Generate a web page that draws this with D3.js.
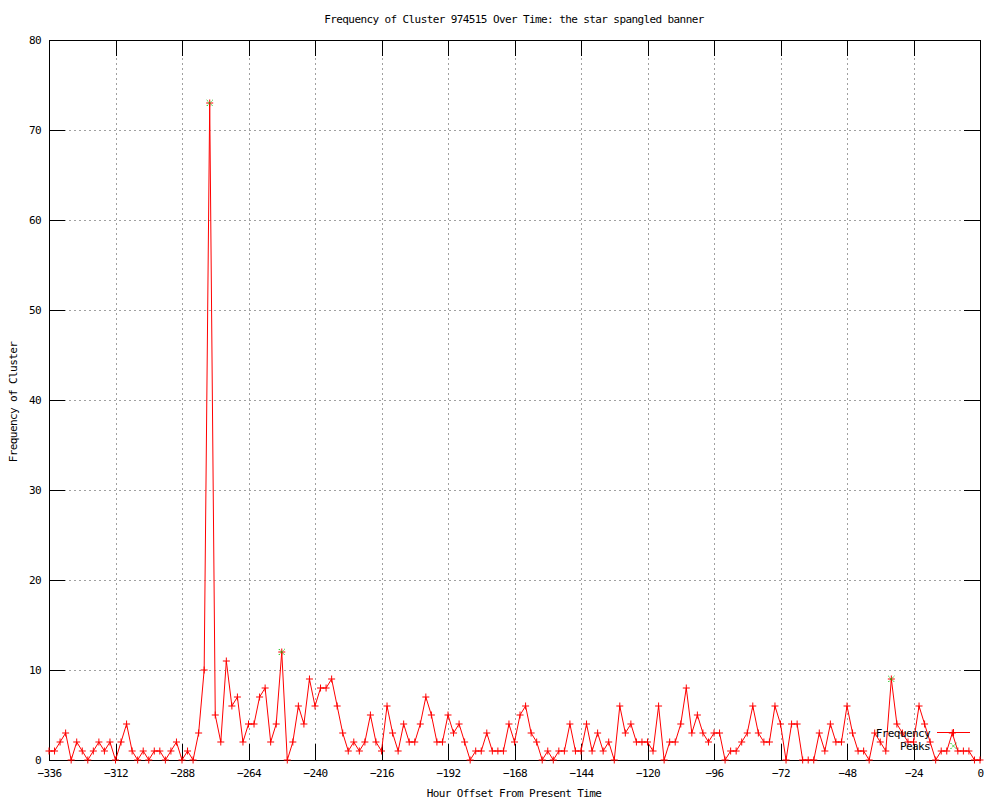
<!DOCTYPE html>
<html>
<head>
<meta charset="utf-8">
<script src="https://cdn.jsdelivr.net/npm/d3@7"></script>
<style>
  body { margin: 0; background: #fff; }
  svg text { font-family: "DejaVu Sans Mono", "Liberation Mono", monospace; font-size: 11px; letter-spacing: -0.6px; fill: #000; }
</style>
</head>
<body>
<div class="container"></div>
<script>
const HEIGHT = 800;
const WIDTH = 1000;

// x grid of the series: every 2 hours from -336 to 0
var startHour = -336;
var stepHours = 2;

// cluster frequency, one value per 2-hour bin
var frequency = [
    1,1,2,3,0,2,1,0,1,2,1,2,0,2,4,1,0,1,0,1,1,0,1,2,0,1,0,3,10,
    73,5,2,11,6,7,2,4,4,7,8,2,4,12,0,2,6,4,9,6,8,8,9,6,3,1,2,1,
    2,5,2,1,6,3,1,4,2,2,4,7,5,2,2,5,3,4,2,0,1,1,3,1,1,1,4,2,
    5,6,3,2,0,1,0,1,1,4,1,1,4,1,3,1,2,0,6,3,4,2,2,2,1,6,0,2,
    2,4,8,3,5,3,2,3,3,0,1,1,2,3,6,3,2,2,6,4,0,4,4,0,0,0,3,1,
    4,2,2,6,3,1,1,0,3,2,1,9,4,3,2,2,6,4,2,0,1,1,3,1,1,1,0,0
];

var peakHours = [-278, -252, -32];

var xTickValues = [-336,-312,-288,-264,-240,-216,-192,-168,-144,-120,-96,-72,-48,-24,0];
var yTickValues = [0,10,20,30,40,50,60,70,80];

var titleText = "Frequency of Cluster 974515 Over Time: the star spangled banner";
var xLabelText = "Hour Offset From Present Time";
var yLabelText = "Frequency of Cluster";
var seriesNames = ["Frequency", "Peaks"];

var points = frequency.map(function(v, i){ return {hour: startHour + i*stepHours, value: v}; });
var peaks = points.filter(function(d){ return peakHours.indexOf(d.hour) >= 0; });

var plusPath = "M-3.5,0H3.5M0,-3.5V3.5";
var crossPath = "M-3,-3L3,3M-3,3L3,-3";

var drawGrid = function(x, y, svg){
    var g = svg.append("g").attr("class", "grid");
    g.selectAll("line.vx")
        .data(xTickValues.slice(1, -1))
        .enter().append("line")
        .attr("x1", function(d){ return x(d) + 0.5; })
        .attr("x2", function(d){ return x(d) + 0.5; })
        .attr("y1", y(0))
        .attr("y2", y(80));
    g.selectAll("line.hy")
        .data(yTickValues.slice(1, -1))
        .enter().append("line")
        .attr("x1", x(-336))
        .attr("x2", x(0))
        .attr("y1", function(d){ return y(d) + 0.5; })
        .attr("y2", function(d){ return y(d) + 0.5; });
    g.selectAll("line")
        .style("stroke", "#a0a0a0")
        .style("stroke-dasharray", "2,3")
        .style("shape-rendering", "crispEdges");
};

var drawAxes = function(x, y, svg){
    var bottom = svg.append("g")
        .attr("transform", "translate(0," + y(0) + ")")
        .call(d3.axisBottom(x).tickValues(xTickValues).tickSizeInner(-16).tickSizeOuter(0).tickPadding(9));
    var top = svg.append("g")
        .attr("transform", "translate(0," + y(80) + ")")
        .call(d3.axisTop(x).tickValues(xTickValues).tickSizeInner(-16).tickSizeOuter(0).tickFormat(""));
    var left = svg.append("g")
        .attr("transform", "translate(" + x(-336) + ",0)")
        .call(d3.axisLeft(y).tickValues(yTickValues).tickSizeInner(-16).tickSizeOuter(0).tickPadding(8));
    var right = svg.append("g")
        .attr("transform", "translate(" + x(0) + ",0)")
        .call(d3.axisRight(y).tickValues(yTickValues).tickSizeInner(-16).tickSizeOuter(0).tickFormat(""));

    svg.selectAll(".tick line, .domain")
        .style("stroke", "#000")
        .style("shape-rendering", "crispEdges");
    svg.selectAll(".tick text")
        .attr("font-family", null)
        .attr("font-size", null)
        .style("fill", "#000");
};

var drawSeries = function(x, y, svg){
    var line = d3.line()
        .x(function(d){ return x(d.hour); })
        .y(function(d){ return y(d.value); });

    svg.append("path")
        .datum(points)
        .attr("d", line)
        .style("fill", "none")
        .style("stroke", "#ff0000")
        .style("stroke-width", 1);

    svg.selectAll("path.pt")
        .data(points)
        .enter()
        .append("path")
        .attr("class", "pt")
        .attr("transform", function(d){ return "translate(" + x(d.hour) + "," + y(d.value) + ")"; })
        .attr("d", plusPath)
        .style("stroke", "#ff0000")
        .style("fill", "none");

    svg.selectAll("path.peak")
        .data(peaks)
        .enter()
        .append("path")
        .attr("class", "peak")
        .attr("transform", function(d){ return "translate(" + x(d.hour) + "," + y(d.value) + ")"; })
        .attr("d", crossPath)
        .style("stroke", "#00c000")
        .style("stroke-dasharray", "1.5,1")
        .style("fill", "none");
};

var drawLegend = function(svg){
    var g = svg.append("g");
    g.selectAll("text")
        .data(seriesNames)
        .enter()
        .append("text")
        .attr("x", 930)
        .attr("y", function(d, i){ return 736.5 + i*13.5; })
        .attr("text-anchor", "end")
        .text(function(d){ return d; });

    g.append("line")
        .attr("x1", 937).attr("x2", 970)
        .attr("y1", 732.5).attr("y2", 732.5)
        .style("stroke", "#ff0000");
    g.append("path")
        .attr("transform", "translate(953.5,732.5)")
        .attr("d", plusPath)
        .style("stroke", "#ff0000");
    g.append("path")
        .attr("transform", "translate(953.5,746)")
        .attr("d", crossPath)
        .style("stroke", "#00c000")
        .style("stroke-dasharray", "1.5,1");
};

var drawLabels = function(svg){
    svg.append("text")
        .attr("x", 514).attr("y", 23)
        .attr("text-anchor", "middle")
        .text(titleText);
    svg.append("text")
        .attr("x", 514).attr("y", 797)
        .attr("text-anchor", "middle")
        .text(xLabelText);
    svg.append("text")
        .attr("transform", "translate(17,402) rotate(-90)")
        .attr("text-anchor", "middle")
        .text(yLabelText);
};

var load = function(){
    var x_scale = d3.scaleLinear()
        .domain([-336, 0])
        .range([49, 980]);

    var y_scale = d3.scaleLinear()
        .domain([0, 80])
        .range([760, 40]);

    var container = d3.select(".container")
        .append("svg")
        .attr("height", HEIGHT)
        .attr("width", WIDTH);

    container.append("rect")
        .attr("width", WIDTH).attr("height", HEIGHT)
        .style("fill", "#fff");

    drawGrid(x_scale, y_scale, container);
    drawAxes(x_scale, y_scale, container);
    drawSeries(x_scale, y_scale, container);
    drawLegend(container);
    drawLabels(container);
};

window.onload = load;
</script>
</body>
</html>
